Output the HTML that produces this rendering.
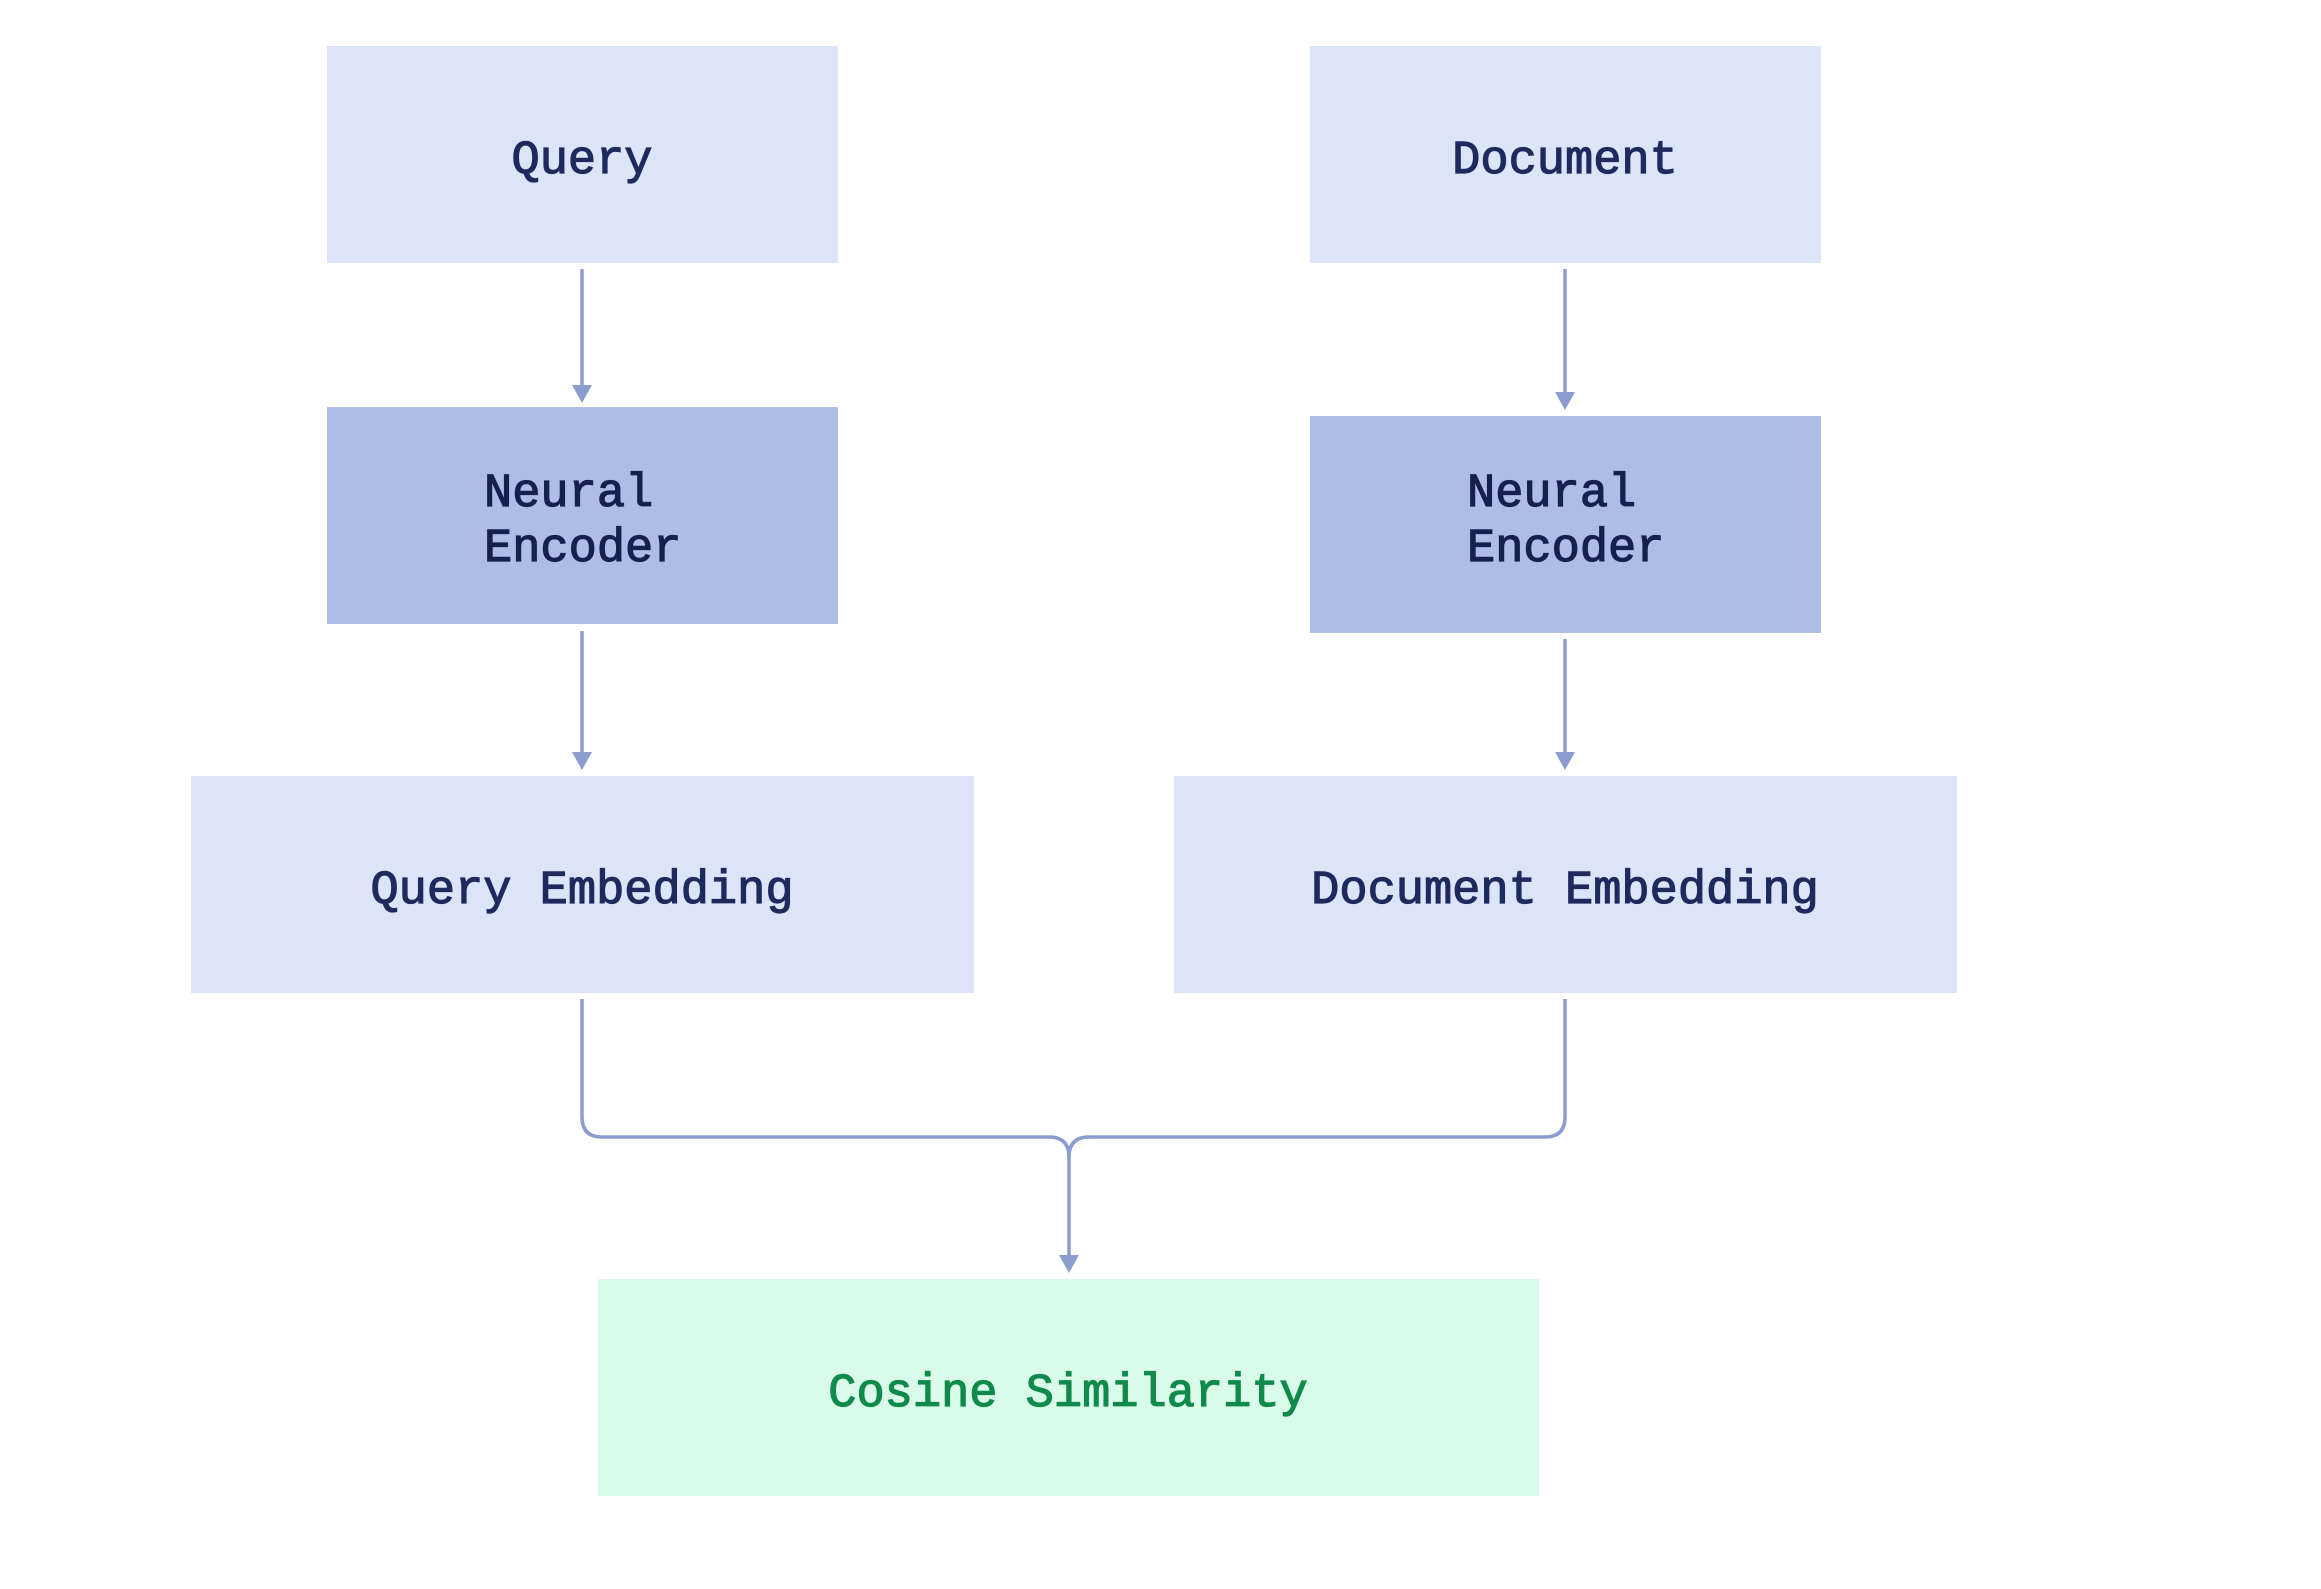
<!DOCTYPE html>
<html><head><meta charset="utf-8"><style>
html,body{margin:0;padding:0;background:#fff;}
svg{display:block;}
text{font-family:"Liberation Mono",monospace;font-size:47px;stroke-width:1.2px;}
</style></head><body>
<svg width="2321" height="1589" viewBox="0 0 2321 1589" xmlns="http://www.w3.org/2000/svg">
<rect width="2321" height="1589" fill="#ffffff"/>
<g fill="#dce4f8">
<rect x="327" y="46" width="511" height="217"/>
<rect x="1310" y="46" width="511" height="217"/>
<rect x="191" y="776" width="783" height="217"/>
<rect x="1174" y="776" width="783" height="217"/>
</g>
<g fill="#aebde6">
<rect x="327" y="407" width="511" height="217"/>
<rect x="1310" y="416" width="511" height="217"/>
</g>
<rect x="598" y="1279" width="941" height="217" fill="#dafbe9"/>
<g stroke="#8b9dcf" stroke-width="3.5" fill="none">
<line x1="582" y1="269" x2="582" y2="390"/>
<line x1="582" y1="631" x2="582" y2="758"/>
<line x1="1565" y1="269" x2="1565" y2="398"/>
<line x1="1565" y1="639" x2="1565" y2="758"/>
<path d="M582 999 V1117 Q582 1137 602 1137 H1049 Q1069 1137 1069 1157 V1260"/>
<path d="M1565 999 V1117 Q1565 1137 1545 1137 H1089 Q1069 1137 1069 1157"/>
</g>
<g fill="#8b9dcf">
<path d="M572 385 L592 385 L582 403 Z"/>
<path d="M572 752 L592 752 L582 770 Z"/>
<path d="M1555 392 L1575 392 L1565 410 Z"/>
<path d="M1555 752 L1575 752 L1565 770 Z"/>
<path d="M1059 1255 L1079 1255 L1069 1273 Z"/>
</g>
<g fill="#1e2a5e" stroke="#1e2a5e" text-anchor="middle">
<text x="582" y="173">Query</text>
<text x="1565" y="173">Document</text>
<text x="582" y="903">Query Embedding</text>
<text x="1565" y="903">Document Embedding</text>
</g>
<g fill="#16204f" stroke="#16204f">
<text x="484" y="506">Neural</text>
<text x="484" y="561">Encoder</text>
<text x="1467" y="506">Neural</text>
<text x="1467" y="561">Encoder</text>
</g>
<text x="1068" y="1406" text-anchor="middle" fill="#0f8a4a" stroke="#0f8a4a">Cosine Similarity</text>
</svg>
</body></html>
